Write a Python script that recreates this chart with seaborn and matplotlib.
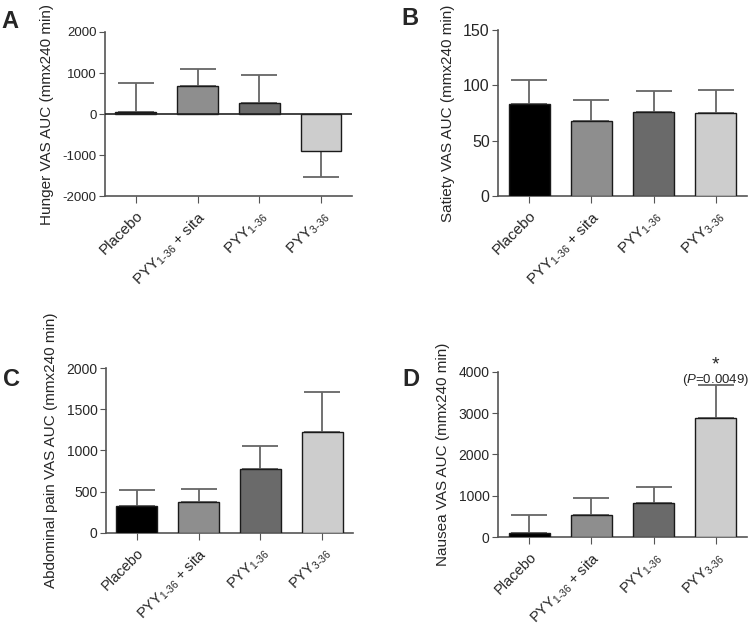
import matplotlib
matplotlib.use("Agg")
import matplotlib.pyplot as plt
import seaborn as sns
import pandas as pd

# -------------------------------
# data
# -------------------------------
groups = ["Placebo", "PYY1-36 + sita", "PYY1-36", "PYY3-36"]
tick_labels = [
    "Placebo",
    r"PY$Y_{1\text{-}36}$ + sita",
    r"PY$Y_{1\text{-}36}$",
    r"PY$Y_{3\text{-}36}$",
]
bar_colors = ["#000000", "#8e8e8e", "#6a6a6a", "#cdcdcd"]

hunger_mean = [60, 680, 270, -900]
hunger_err = [700, 420, 680, 630]

satiety_mean = [83, 68, 76, 75]
satiety_err = [22, 19, 19, 21]

pain_mean = [330, 375, 780, 1230]
pain_err = [185, 160, 275, 480]

nausea_mean = [100, 540, 830, 2870]
nausea_err = [430, 400, 390, 810]

sns.set_style("ticks")
plt.rcParams["font.family"] = ["Liberation Sans", "DejaVu Sans"]
plt.rcParams["mathtext.fontset"] = "custom"
plt.rcParams["mathtext.rm"] = "Liberation Sans"
plt.rcParams["mathtext.it"] = "Liberation Sans:italic"
plt.rcParams["mathtext.default"] = "regular"
plt.rcParams["axes.unicode_minus"] = False

fig = plt.figure(figsize=(7.5, 6.27), dpi=100)

panels = [
    # letter, means, errs, ylabel, ylim, yticks, rect, y tick size, x tick size
    ("A", hunger_mean, hunger_err, "Hunger VAS AUC (mmx240 min)",
     (-2000, 2000), [-2000, -1000, 0, 1000, 2000], [0.140, 0.687, 0.329, 0.262], 9.5, 11),
    ("B", satiety_mean, satiety_err, "Satiety VAS AUC (mmx240 min)",
     (0, 150), [0, 50, 100, 150], [0.664, 0.687, 0.332, 0.265], 11.5, 11),
    ("C", pain_mean, pain_err, "Abdominal pain VAS AUC (mmx240 min)",
     (0, 2000), [0, 500, 1000, 1500, 2000], [0.141, 0.150, 0.330, 0.263], 10, 10.5),
    ("D", nausea_mean, nausea_err, "Nausea VAS AUC (mmx240 min)",
     (0, 4000), [0, 1000, 2000, 3000, 4000], [0.664, 0.1435, 0.332, 0.2635], 10, 10.5),
]
letter_pos = {"A": (0.002, 0.965), "B": (0.535, 0.970), "C": (0.004, 0.395), "D": (0.537, 0.395)}

spine_col = "#555555"
err_col = "#666666"

for letter, means, errs, ylab, ylim, yticks, rect, tsize, xsize in panels:
    ax = fig.add_axes(rect)
    df = pd.DataFrame({"group": groups, "value": means})
    sns.barplot(data=df, x="group", y="value", hue="group", palette=bar_colors,
                legend=False, width=0.66, edgecolor="#1a1a1a", linewidth=1.0,
                errorbar=None, ax=ax, zorder=3)
    # one-sided error bars, away from zero
    lower = [e if m < 0 else 0 for m, e in zip(means, errs)]
    upper = [0 if m < 0 else e for m, e in zip(means, errs)]
    ax.errorbar(range(len(groups)), means, yerr=[lower, upper], fmt="none",
                ecolor=err_col, elinewidth=1.3, capsize=13, capthick=1.3, zorder=2)

    ax.set_xlim(-0.5, 3.5)
    ax.set_ylim(*ylim)
    ax.set_yticks(yticks)
    ax.set_xticks(range(len(groups)))
    ax.set_xticklabels(tick_labels, rotation=45, ha="right", rotation_mode="anchor",
                       fontsize=xsize)
    ax.tick_params(axis="y", labelsize=tsize, length=4, color=spine_col, pad=2)
    ax.tick_params(axis="x", length=5, color=spine_col, pad=4)
    ax.set_xlabel("")
    ax.set_ylabel(ylab, fontsize=11, labelpad=6)
    sns.despine(ax=ax)
    for s in ["left", "bottom"]:
        ax.spines[s].set_color(spine_col)
        ax.spines[s].set_linewidth(1.2)
    if ylim[0] < 0:
        ax.axhline(0, color="#222222", linewidth=1.2, zorder=4)

    fig.text(letter_pos[letter][0], letter_pos[letter][1], letter,
             fontsize=17, fontweight="bold", va="center", ha="left")

    if letter == "D":
        top = means[3] + errs[3]
        ax.text(3, top + 120, r"($\mathit{P}$=0.0049)", ha="center", va="center", fontsize=9.5)
        ax.text(3, top + 290, "*", ha="center", va="bottom", fontsize=14)

fig.savefig("out.png", dpi=100)
